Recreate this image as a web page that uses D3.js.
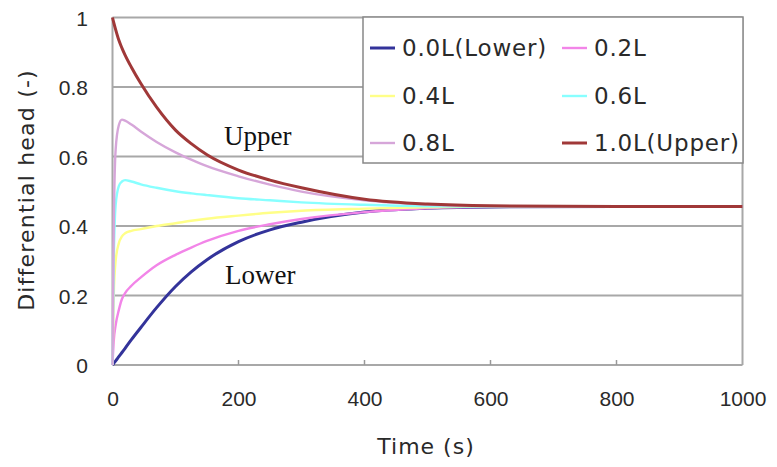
<!DOCTYPE html>
<html lang="en">
<head>
    <meta charset="UTF-8">
    <title>Differential head</title>
    <script src="https://d3js.org/d3.v7.min.js"></script>
    <style>
        html, body {
            margin: 0;
            background: #fff;
        }
        svg {
            display: block;
            font-family: 'DejaVu Sans', sans-serif;
        }
        .tick text {
            font-size: 21px;
            fill: #2a2a2a;
        }
        .note {
            font-family: 'Liberation Serif', serif;
            font-size: 27px;
            fill: #111;
        }
    </style>
</head>
<body>
<svg width="777" height="467"></svg>
<script>
    // sample times (s)
    const times = [0, 2, 5, 10, 15, 20, 30, 45, 70, 100, 125, 150, 200, 250, 300, 400, 500, 600, 800, 1000];

    // differential head at each depth
    const h00 = [0, 0.005, 0.012, 0.024, 0.036, 0.048, 0.073, 0.108, 0.165, 0.226, 0.268, 0.303, 0.355, 0.389, 0.411, 0.44, 0.451, 0.455, 0.456, 0.456];
    const h02 = [0, 0.07, 0.115, 0.158, 0.19, 0.207, 0.228, 0.252, 0.287, 0.317, 0.338, 0.357, 0.386, 0.405, 0.42, 0.44, 0.451, 0.455, 0.456, 0.456];
    const h04 = [0, 0.2, 0.3, 0.35, 0.37, 0.379, 0.386, 0.391, 0.4, 0.408, 0.415, 0.421, 0.43, 0.438, 0.444, 0.45, 0.454, 0.456, 0.456, 0.456];
    const h06 = [0, 0.3, 0.46, 0.515, 0.528, 0.532, 0.528, 0.52, 0.51, 0.5, 0.494, 0.489, 0.48, 0.474, 0.468, 0.461, 0.457, 0.456, 0.456, 0.456];
    const h08 = [0, 0.4, 0.62, 0.69, 0.706, 0.703, 0.692, 0.672, 0.642, 0.612, 0.591, 0.572, 0.543, 0.519, 0.499, 0.474, 0.462, 0.457, 0.456, 0.456];
    const h10 = [1, 0.985, 0.965, 0.935, 0.912, 0.892, 0.857, 0.81, 0.742, 0.676, 0.637, 0.605, 0.561, 0.532, 0.51, 0.477, 0.463, 0.458, 0.456, 0.456];

    const names = ["0.0L(Lower)", "0.2L", "0.4L", "0.6L", "0.8L", "1.0L(Upper)"];
    const colors = ["#33339a", "#f285e8", "#ffff88", "#88ffff", "#d6a6d9", "#a03838"];
    const widths = [3, 2.4, 2.4, 2.4, 2.4, 3];
    const xTicks = [0, 200, 400, 600, 800, 1000];
    const yTicks = [0, 0.2, 0.4, 0.6, 0.8, 1];

    const series = [h00, h02, h04, h06, h08, h10];

    const svg = d3.select("svg");
    const x = d3.scaleLinear().domain([0, 1000]).range([112.5, 742.5]);
    const y = d3.scaleLinear().domain([0, 1]).range([365, 17.5]);

    // gridlines
    svg.append("g")
        .selectAll("line")
        .data(yTicks)
        .enter().append("line")
        .attr("x1", x(0)).attr("x2", x(1000))
        .attr("y1", d => y(d)).attr("y2", d => y(d))
        .attr("stroke", "#a8a8a8")
        .attr("stroke-width", 2);

    // left axis line and right border
    svg.append("line")
        .attr("x1", x(0)).attr("x2", x(0))
        .attr("y1", y(0)).attr("y2", y(1))
        .attr("stroke", "#a8a8a8").attr("stroke-width", 2);
    svg.append("line")
        .attr("x1", x(1000)).attr("x2", x(1000))
        .attr("y1", y(0)).attr("y2", y(1))
        .attr("stroke", "#a8a8a8").attr("stroke-width", 2);

    // small inner ticks on bottom axis
    svg.append("g")
        .selectAll("line")
        .data(xTicks.slice(1, -1))
        .enter().append("line")
        .attr("x1", d => x(d)).attr("x2", d => x(d))
        .attr("y1", y(0)).attr("y2", y(0) - 5)
        .attr("stroke", "#999").attr("stroke-width", 1.5);

    // tick labels through d3 axes
    const xAxis = svg.append("g")
        .attr("transform", `translate(0,${y(0) + 30})`)
        .call(d3.axisBottom(x).tickValues(xTicks).tickSize(0).tickFormat(d3.format("d")));
    xAxis.select(".domain").remove();
    xAxis.selectAll("text").attr("dy", 0).attr("dominant-baseline", "central");

    const yAxis = svg.append("g")
        .attr("transform", `translate(88,0)`)
        .call(d3.axisLeft(y).tickValues(yTicks).tickSize(0)
            .tickFormat(d => d === 0 || d === 1 ? d3.format("d")(d) : d3.format(".1f")(d)));
    yAxis.select(".domain").remove();
    yAxis.selectAll("text").attr("x", 0).attr("dy", 0).attr("dominant-baseline", "central");

    // axis titles
    svg.append("text")
        .attr("x", 426).attr("y", 446)
        .attr("text-anchor", "middle")
        .attr("dominant-baseline", "central")
        .attr("font-size", 22)
        .attr("letter-spacing", 1)
        .attr("fill", "#2a2a2a")
        .text("Time (s)");

    svg.append("text")
        .attr("transform", "translate(26,190) rotate(-90)")
        .attr("text-anchor", "middle")
        .attr("dominant-baseline", "central")
        .attr("font-size", 22)
        .attr("letter-spacing", 1.2)
        .attr("fill", "#2a2a2a")
        .text("Differential head (-)");

    // curves
    const line = d3.line()
        .x((d, i) => x(times[i]))
        .y(d => y(d))
        .curve(d3.curveMonotoneX);

    svg.append("g")
        .selectAll("path")
        .data(series)
        .enter().append("path")
        .attr("d", d => line(d))
        .attr("fill", "none")
        .attr("stroke", (d, i) => colors[i])
        .attr("stroke-width", (d, i) => widths[i]);

    // annotations
    svg.append("text").attr("class", "note").attr("x", 224).attr("y", 145).text("Upper");
    svg.append("text").attr("class", "note").attr("x", 225).attr("y", 284).text("Lower");

    // legend
    const legend = svg.append("g");
    legend.append("rect")
        .attr("x", 363).attr("y", 17)
        .attr("width", 380).attr("height", 146)
        .attr("fill", "#fff")
        .attr("stroke", "#888")
        .attr("stroke-width", 1.5);

    const colX = [370, 562];
    const rowY = [48, 96, 143];
    const item = legend.selectAll("g.item")
        .data(names)
        .enter().append("g")
        .attr("class", "item")
        .attr("transform", (d, i) => `translate(${colX[i % 2]},${rowY[Math.floor(i / 2)]})`);

    item.append("line")
        .attr("x1", 0).attr("x2", 25)
        .attr("stroke", (d, i) => colors[i])
        .attr("stroke-width", (d, i) => widths[i]);

    item.append("text")
        .attr("x", 32)
        .attr("dominant-baseline", "central")
        .attr("font-size", 23)
        .attr("letter-spacing", 0.8)
        .attr("fill", "#2a2a2a")
        .text(d => d);
</script>
</body>
</html>
